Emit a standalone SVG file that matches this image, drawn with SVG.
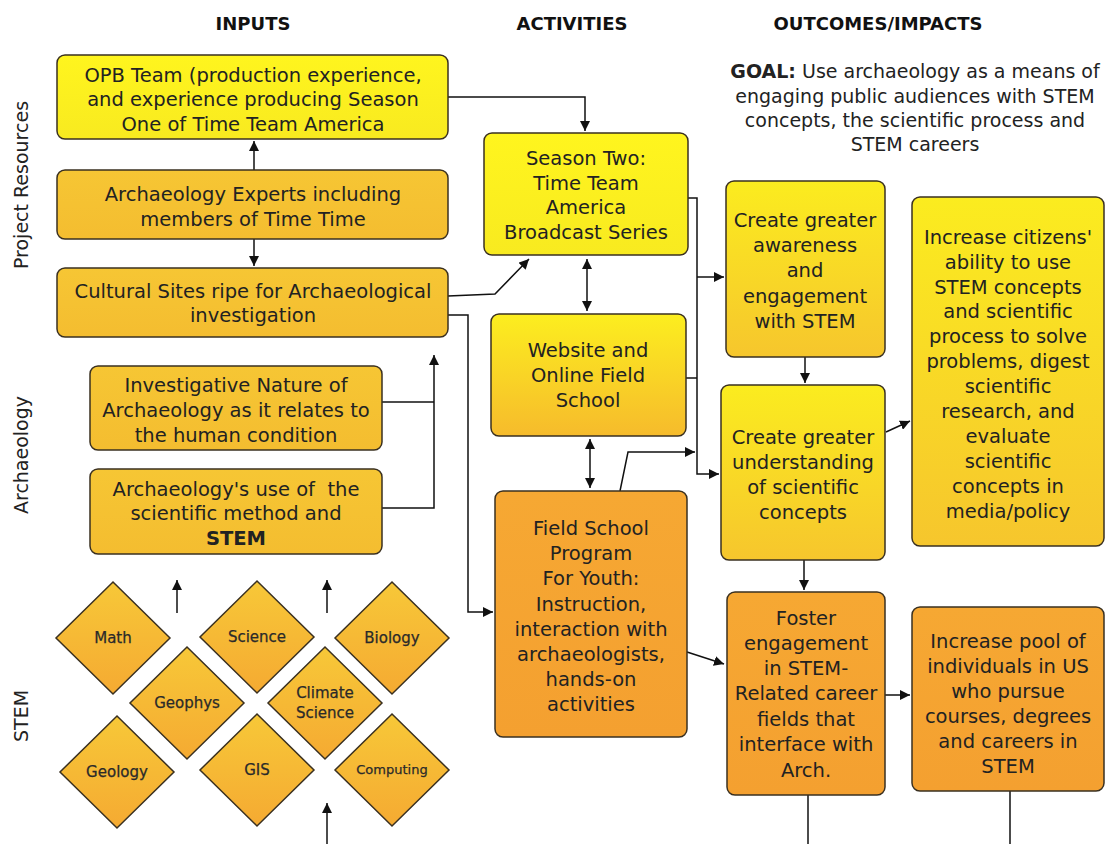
<svg xmlns="http://www.w3.org/2000/svg" width="1107" height="844" viewBox="0 0 1107 844">
<defs>
<style>
.box{stroke:#3a3020;stroke-width:1.5}
.t{font-family:"DejaVu Sans","Liberation Sans",sans-serif;font-size:19.5px;fill:#222;text-anchor:middle}
.hdr{font-family:"DejaVu Sans","Liberation Sans",sans-serif;font-size:18px;font-weight:bold;fill:#111;text-anchor:middle}
.side{font-family:"DejaVu Sans","Liberation Sans",sans-serif;font-size:19px;fill:#222;text-anchor:middle}
.dt{font-family:"DejaVu Sans","Liberation Sans",sans-serif;font-size:15px;fill:#2a2a2a;text-anchor:middle;stroke:#2a2a2a;stroke-width:0.25}
.conn{fill:none;stroke:#111;stroke-width:1.5}
.arr{marker-end:url(#ah)}
.arr2{marker-start:url(#ahs);marker-end:url(#ah)}
</style>
<marker id="ah" viewBox="0 0 10 10" refX="10" refY="5" markerWidth="10" markerHeight="10" markerUnits="userSpaceOnUse" orient="auto"><path d="M0,0 L10,5 L0,10 z" fill="#111"/></marker>
<marker id="ahs" viewBox="0 0 10 10" refX="0" refY="5" markerWidth="10" markerHeight="10" markerUnits="userSpaceOnUse" orient="auto"><path d="M10,0 L0,5 L10,10 z" fill="#111"/></marker>
<linearGradient id="gYellow" x1="0" y1="0" x2="0" y2="1"><stop offset="0" stop-color="#fff51e"/><stop offset="1" stop-color="#f8ea20"/></linearGradient>
<linearGradient id="gGold" x1="0" y1="0" x2="0" y2="1"><stop offset="0" stop-color="#f6c634"/><stop offset="1" stop-color="#f4bd30"/></linearGradient>
<linearGradient id="gOrange" x1="0" y1="0" x2="0" y2="1"><stop offset="0" stop-color="#f6a833"/><stop offset="1" stop-color="#f4a030"/></linearGradient>
<linearGradient id="gYO" x1="0" y1="0" x2="0" y2="1"><stop offset="0" stop-color="#fcee1f"/><stop offset="1" stop-color="#f6bb2c"/></linearGradient>
<linearGradient id="gYG" x1="0" y1="0" x2="0" y2="1"><stop offset="0" stop-color="#fbec1f"/><stop offset="1" stop-color="#f6c62d"/></linearGradient>
<linearGradient id="gDia" x1="0" y1="0" x2="0" y2="1"><stop offset="0" stop-color="#f7c838"/><stop offset="1" stop-color="#f5aa32"/></linearGradient>
</defs>
<rect width="1107" height="844" fill="#ffffff"/>

<g id="headers">
<text class="hdr" x="253" y="30">INPUTS</text>
<text class="hdr" x="572" y="30">ACTIVITIES</text>
<text class="hdr" x="878" y="30">OUTCOMES/IMPACTS</text>
</g>

<g id="side-labels">
<text class="side" transform="translate(28,185) rotate(-90)">Project Resources</text>
<text class="side" transform="translate(28,455) rotate(-90)">Archaeology</text>
<text class="side" transform="translate(28,716) rotate(-90)">STEM</text>
</g>

<g id="goal">
<text class="t" style="font-size:19px" x="915" y="78"><tspan font-weight="bold">GOAL:</tspan> Use archaeology as a means of</text>
<text class="t" style="font-size:19px" x="915" y="103">engaging public audiences with STEM</text>
<text class="t" style="font-size:19px" x="915" y="127">concepts, the scientific process and</text>
<text class="t" style="font-size:19px" x="915" y="151">STEM careers</text>
</g>

<g id="connectors">
<path class="conn arr" d="M448,97 H585 V131"/>
<path class="conn arr" d="M254,170 V141"/>
<path class="conn arr" d="M254,239 V266"/>
<path class="conn arr" d="M448,296 L495,294 L529,259"/>
<path class="conn arr" d="M448,315 H468 V612 H493"/>
<path class="conn" d="M382,402 H434"/>
<path class="conn arr" d="M382,508 H434 V355"/>
<path class="conn arr2" d="M587,259 V311"/>
<path class="conn arr2" d="M590,439 V488"/>
<path class="conn arr" d="M688,198 H697 V474 H719"/>
<path class="conn arr" d="M697,277 H724"/>
<path class="conn" d="M686,378 H697"/>
<path class="conn arr" d="M620,491 L628,452 H695"/>
<path class="conn arr" d="M805,357 V383"/>
<path class="conn arr" d="M804,560 V590"/>
<path class="conn arr" d="M886,432 L910,421"/>
<path class="conn arr" d="M687,652 L724,664"/>
<path class="conn arr" d="M885,695 H910"/>
<path class="conn" d="M808,795 V844"/>
<path class="conn" d="M1010,791 V844"/>
<path class="conn arr" d="M177,613 V580"/>
<path class="conn arr" d="M327,613 V580"/>
<path class="conn arr" d="M327,844 V803"/>
</g>

<g id="opb">
<rect class="box" x="57" y="55" width="391" height="84" rx="8" fill="url(#gYellow)"/>
<text class="t" x="253" y="82">OPB Team (production experience,</text>
<text class="t" x="253" y="106">and experience producing Season</text>
<text class="t" x="253" y="131">One of Time Team America</text>
</g>

<g id="experts">
<rect class="box" x="57" y="170" width="391" height="69" rx="8" fill="url(#gGold)"/>
<text class="t" x="253" y="201">Archaeology Experts including</text>
<text class="t" x="253" y="226">members of Time Time</text>
</g>

<g id="cultural">
<rect class="box" x="57" y="268" width="391" height="69" rx="8" fill="url(#gGold)"/>
<text class="t" x="253" y="298">Cultural Sites ripe for Archaeological</text>
<text class="t" x="253" y="322">investigation</text>
</g>

<g id="investigative">
<rect class="box" x="90" y="366" width="292" height="84" rx="8" fill="url(#gGold)"/>
<text class="t" x="236" y="392">Investigative Nature of</text>
<text class="t" x="236" y="417">Archaeology as it relates to</text>
<text class="t" x="236" y="442">the human condition</text>
</g>

<g id="archuse">
<rect class="box" x="90" y="469" width="292" height="85" rx="8" fill="url(#gGold)"/>
<text class="t" x="236" y="496" xml:space="preserve">Archaeology's use of  the</text>
<text class="t" x="236" y="520">scientific method and</text>
<text class="t" x="236" y="545" font-weight="bold">STEM</text>
</g>

<g id="math"><polygon points="113,582 170,638 113,694 56,638" class="box" fill="url(#gDia)"/><text class="dt" x="113" y="643">Math</text></g>
<g id="science"><polygon points="257,581 314,637 257,693 200,637" class="box" fill="url(#gDia)"/><text class="dt" x="257" y="642">Science</text></g>
<g id="biology"><polygon points="392,582 449,638 392,694 335,638" class="box" fill="url(#gDia)"/><text class="dt" x="392" y="643">Biology</text></g>
<g id="geophys"><polygon points="187,647 244,703 187,759 130,703" class="box" fill="url(#gDia)"/><text class="dt" x="187" y="708">Geophys</text></g>
<g id="climate"><polygon points="325,647 382,703 325,759 268,703" class="box" fill="url(#gDia)"/><text class="dt" x="325" y="698">Climate</text><text class="dt" x="325" y="718">Science</text></g>
<g id="geology"><polygon points="117,716 174,772 117,828 60,772" class="box" fill="url(#gDia)"/><text class="dt" x="117" y="777">Geology</text></g>
<g id="gis"><polygon points="257,714 314,770 257,826 200,770" class="box" fill="url(#gDia)"/><text class="dt" x="257" y="775">GIS</text></g>
<g id="computing"><polygon points="392,714 449,770 392,826 335,770" class="box" fill="url(#gDia)"/><text class="dt" style="font-size:13px" x="392" y="774">Computing</text></g>

<g id="season-two">
<rect class="box" x="484" y="133" width="204" height="122" rx="8" fill="url(#gYellow)"/>
<text class="t" x="586" y="165">Season Two:</text>
<text class="t" x="586" y="190">Time Team</text>
<text class="t" x="586" y="214">America</text>
<text class="t" x="586" y="239">Broadcast Series</text>
</g>

<g id="website">
<rect class="box" x="491" y="314" width="195" height="122" rx="8" fill="url(#gYO)"/>
<text class="t" x="588" y="357">Website and</text>
<text class="t" x="588" y="382">Online Field</text>
<text class="t" x="588" y="407">School</text>
</g>

<g id="field-school">
<rect class="box" x="495" y="491" width="192" height="246" rx="8" fill="url(#gOrange)"/>
<text class="t" x="591" y="535">Field School</text>
<text class="t" x="591" y="560">Program</text>
<text class="t" x="591" y="585">For Youth:</text>
<text class="t" x="591" y="611">Instruction,</text>
<text class="t" x="591" y="636">interaction with</text>
<text class="t" x="591" y="661">archaeologists,</text>
<text class="t" x="591" y="686">hands-on</text>
<text class="t" x="591" y="711">activities</text>
</g>

<g id="awareness">
<rect class="box" x="726" y="181" width="159" height="176" rx="8" fill="url(#gYG)"/>
<text class="t" x="805" y="227">Create greater</text>
<text class="t" x="805" y="252">awareness</text>
<text class="t" x="805" y="277">and</text>
<text class="t" x="805" y="303">engagement</text>
<text class="t" x="805" y="328">with STEM</text>
</g>

<g id="understanding">
<rect class="box" x="721" y="385" width="164" height="175" rx="8" fill="url(#gYG)"/>
<text class="t" x="803" y="444">Create greater</text>
<text class="t" x="803" y="469">understanding</text>
<text class="t" x="803" y="494">of scientific</text>
<text class="t" x="803" y="519">concepts</text>
</g>

<g id="foster">
<rect class="box" x="727" y="592" width="158" height="203" rx="8" fill="url(#gOrange)"/>
<text class="t" x="806" y="625">Foster</text>
<text class="t" x="806" y="650">engagement</text>
<text class="t" x="806" y="675">in STEM-</text>
<text class="t" x="806" y="700">Related career</text>
<text class="t" x="806" y="726">fields that</text>
<text class="t" x="806" y="751">interface with</text>
<text class="t" x="806" y="777">Arch.</text>
</g>

<g id="citizens">
<rect class="box" x="912" y="197" width="192" height="349" rx="8" fill="url(#gYG)"/>
<text class="t" x="1008" y="244">Increase citizens'</text>
<text class="t" x="1008" y="269">ability to use</text>
<text class="t" x="1008" y="294">STEM concepts</text>
<text class="t" x="1008" y="318">and scientific</text>
<text class="t" x="1008" y="343">process to solve</text>
<text class="t" x="1008" y="368">problems, digest</text>
<text class="t" x="1008" y="393">scientific</text>
<text class="t" x="1008" y="418">research, and</text>
<text class="t" x="1008" y="443">evaluate</text>
<text class="t" x="1008" y="468">scientific</text>
<text class="t" x="1008" y="493">concepts in</text>
<text class="t" x="1008" y="518">media/policy</text>
</g>

<g id="pool">
<rect class="box" x="912" y="607" width="192" height="184" rx="8" fill="url(#gOrange)"/>
<text class="t" x="1008" y="648">Increase pool of</text>
<text class="t" x="1008" y="673">individuals in US</text>
<text class="t" x="1008" y="698">who pursue</text>
<text class="t" x="1008" y="723">courses, degrees</text>
<text class="t" x="1008" y="748">and careers in</text>
<text class="t" x="1008" y="773">STEM</text>
</g>
</svg>
